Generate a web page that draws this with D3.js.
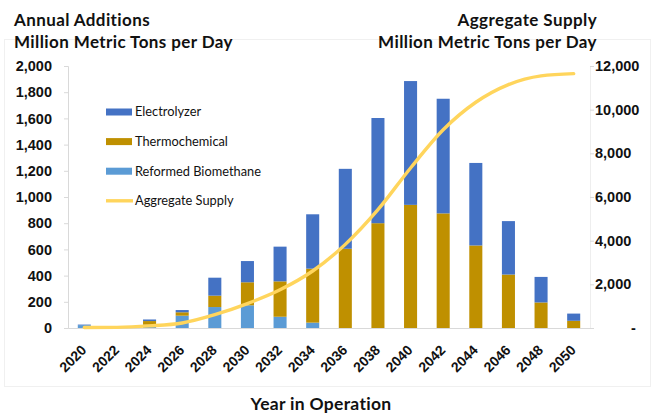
<!DOCTYPE html>
<html>
<head>
<meta charset="utf-8">
<script src="https://cdn.jsdelivr.net/npm/d3@7"></script>
<style>
  html, body { margin: 0; padding: 0; background: #fff; }
  svg { display: block; font-family: Lato, "Open Sans", sans-serif; }
</style>
</head>
<body>
<svg id="chart" width="655" height="414"></svg>
<script>
// ---- Data ----
const years = ["2020","2022","2024","2026","2028","2030","2032","2034","2036","2038","2040","2042","2044","2046","2048","2050"];
const biomethane     = [22, 3, 25, 94, 160, 173, 86, 41, 0, 0, 0, 0, 0, 0, 0, 0];
const thermochemical = [0, 0, 28, 26, 87, 176, 270, 412, 605, 800, 940, 875, 630, 408, 195, 55];
const electrolyzer   = [4, 0, 12, 17, 137, 162, 265, 415, 610, 803, 945, 875, 630, 408, 195, 55];
const aggregate      = [25, 30, 95, 230, 610, 1120, 1750, 2610, 3830, 5420, 7330, 9080, 10340, 11150, 11550, 11650];
const leftTicks  = [0, 200, 400, 600, 800, 1000, 1200, 1400, 1600, 1800, 2000];
const rightTicks = [0, 2000, 4000, 6000, 8000, 10000, 12000];
const seriesNames = ["Reformed Biomethane", "Thermochemical", "Electrolyzer"];
const seriesColors = ["#5B9BD5", "#BF9000", "#4472C4"];
const lineColor = "#FFD55C";

const svg = d3.select("#chart");

// faint outer frame
svg.append("rect").attr("x", 4.5).attr("y", 39.5).attr("width", 646).attr("height", 347)
  .attr("fill", "none").attr("stroke", "#f0f0f0");

const x = d3.scaleBand().domain(years).range([68, 590]).paddingInner(0.6).paddingOuter(0.3);
const yL = d3.scaleLinear().domain([0, 2000]).range([328, 66]);
const yR = d3.scaleLinear().domain([0, 12000]).range([328, 66]);

// stacked data
const rows = years.map((yr, i) => ({
  year: yr,
  "Reformed Biomethane": biomethane[i],
  "Thermochemical": thermochemical[i],
  "Electrolyzer": electrolyzer[i]
}));
const stack = d3.stack().keys(seriesNames)(rows);

const gBars = svg.append("g");
stack.forEach((layer, li) => {
  gBars.append("g").attr("fill", seriesColors[li])
    .selectAll("rect").data(layer).join("rect")
    .attr("x", d => x(d.data.year))
    .attr("width", x.bandwidth())
    .attr("y", d => yL(d[1]))
    .attr("height", d => Math.max(0, yL(d[0]) - yL(d[1])));
});

// axes
const axisColor = "#d9d9d9";
const fmt = d3.format(",");
const gL = svg.append("g").attr("transform", "translate(68,0)")
  .call(d3.axisLeft(yL).tickValues(leftTicks).tickFormat(fmt).tickSize(4).tickPadding(12));
gL.select(".domain").attr("stroke", axisColor);
gL.selectAll(".tick line").attr("stroke", axisColor);
gL.selectAll("text").attr("font-size", 14.5).attr("font-weight", "bold").attr("fill", "#111");

const gR = svg.append("g").attr("transform", "translate(590,0)")
  .call(d3.axisRight(yR).tickValues(rightTicks).tickFormat(d => d === 0 ? "-" : fmt(d)).tickSize(4).tickPadding(1));
gR.select(".domain").attr("stroke", "#eeeeee");
gR.selectAll(".tick line").attr("stroke", axisColor);
gR.selectAll("text").attr("font-size", 14.5).attr("font-weight", "bold").attr("fill", "#111")
  .attr("dx", d => d === 0 ? 36 : 0);

const gX = svg.append("g").attr("transform", "translate(0,328)")
  .call(d3.axisBottom(x).tickSize(0).tickPadding(0));
gX.select(".domain").attr("stroke", axisColor);
gX.selectAll("text")
  .attr("font-size", 14).attr("font-weight", "bold").attr("fill", "#111")
  .attr("text-anchor", "end")
  .attr("dy", null).attr("y", 0)
  .attr("transform", "translate(3,23) rotate(-45)");

// aggregate line
const line = d3.line()
  .x((d, i) => x(years[i]) + x.bandwidth() / 2)
  .y(d => yR(d))
  .curve(d3.curveMonotoneX);
svg.append("path").datum(aggregate)
  .attr("d", line).attr("fill", "none")
  .attr("stroke", lineColor).attr("stroke-width", 3.4).attr("stroke-linecap", "round");

// legend
const legendItems = [
  { name: "Electrolyzer", color: seriesColors[2], type: "rect" },
  { name: "Thermochemical", color: seriesColors[1], type: "rect" },
  { name: "Reformed Biomethane", color: seriesColors[0], type: "rect" },
  { name: "Aggregate Supply", color: lineColor, type: "line" }
];
const lg = svg.append("g");
legendItems.forEach((it, i) => {
  const cy = 112 + i * 29.6;
  if (it.type === "rect") {
    lg.append("rect").attr("x", 106).attr("y", cy - 3.5).attr("width", 26).attr("height", 7).attr("fill", it.color);
  } else {
    lg.append("line").attr("x1", 106).attr("x2", 133).attr("y1", cy).attr("y2", cy)
      .attr("stroke", it.color).attr("stroke-width", 3.4);
  }
  lg.append("text").attr("x", 135).attr("y", cy).attr("dy", "0.35em")
    .attr("font-size", 12.8).attr("fill", "#111").text(it.name);
});

// titles
const titleG = svg.append("g").attr("font-size", 17).attr("font-weight", "bold").attr("fill", "#111")
  .attr("letter-spacing", 0.4);
titleG.append("text").attr("x", 14).attr("y", 25.5).text("Annual Additions");
titleG.append("text").attr("x", 14).attr("y", 47.5).text("Million Metric Tons per Day");
titleG.append("text").attr("x", 597).attr("y", 25.5).attr("text-anchor", "end").text("Aggregate Supply");
titleG.append("text").attr("x", 597).attr("y", 47.5).attr("text-anchor", "end").text("Million Metric Tons per Day");

svg.append("text").attr("x", 321).attr("y", 410).attr("text-anchor", "middle")
  .attr("font-size", 17.5).attr("font-weight", "bold").attr("fill", "#111").attr("letter-spacing", 0.3)
  .text("Year in Operation");
</script>
</body>
</html>
